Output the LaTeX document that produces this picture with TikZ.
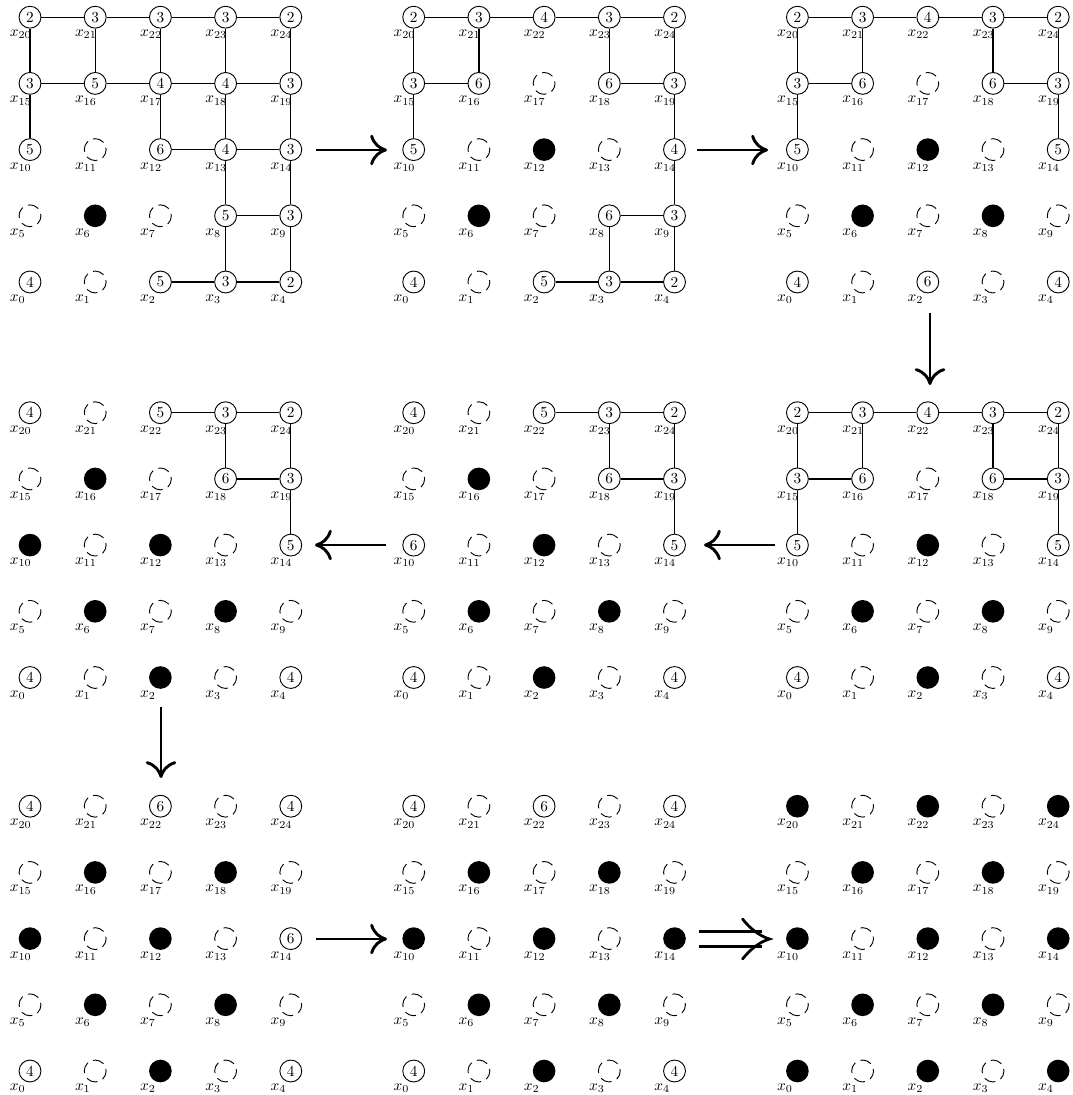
\documentclass[tikz,border=0pt]{standalone}
\usetikzlibrary{arrows.meta,calc}
\newcommand\drawpanel[4]{%
  \foreach \s [count=\k from 0] in {#4} {%
    \pgfmathtruncatemacro\cc{mod(\k,5)}%
    \pgfmathtruncatemacro\rr{div(\k,5)}%
    \pgfmathsetmacro\px{#2+65.2*\cc}%
    \pgfmathsetmacro\py{#3-66.2*\rr}%
    \ifnum\s=0 \node[emp] (#1-\k) at (\px,\py) {};%
    \else\ifnum\s=1 \node[ful] (#1-\k) at (\px,\py) {};%
    \else \node[vtx] (#1-\k) at (\px,\py) {\s};%
    \fi\fi
    \node[lbl] (#1-l\k) at (\px-20.5,\py+19.5) {$x_{\k}$};%
  }%
}
\newcommand\paneledges[2]{%
  \foreach \a/\b in {#2} {\draw[edge] (#1-\a) -- (#1-\b);}%
}
\begin{document}
\begin{tikzpicture}[x=0.654pt,y=-0.654pt,
  vtx/.style={circle,draw,line width=0.6pt,minimum size=14.3pt,inner sep=0pt},
  emp/.style={circle,draw,line width=0.6pt,minimum size=14.3pt,inner sep=0pt,dash pattern=on 7.5pt off 3.73pt,dash phase=6.2pt},
  ful/.style={circle,fill=black,minimum size=14.8pt,inner sep=0pt},
  lbl/.style={anchor=base west,inner sep=0pt,font=\normalsize},
  edge/.style={line width=0.8pt},
  bigarrow/.style={line width=1.9pt,-{To[length=11pt,width=20pt]}},
  dblline/.style={line width=1.8pt,double distance=8pt},
  barb/.style={line width=1.8pt,line cap=round},
]
\useasboundingbox (0,0) rectangle (1072,1095);

% ---------- row 1 ----------
\drawpanel{a}{30}{282}{4,0,5,3,2, 0,1,0,5,3, 5,0,6,4,3, 3,5,4,4,3, 2,3,3,3,2}
\paneledges{a}{20/21,21/22,22/23,23/24,20/15,21/16,22/17,23/18,24/19,15/16,16/17,17/18,18/19,15/10,17/12,18/13,19/14,12/13,13/14,13/8,14/9,8/9,8/3,9/4,2/3,3/4}

\drawpanel{b}{413.7}{282}{4,0,5,3,2, 0,1,0,6,3, 5,0,1,0,4, 3,6,0,6,3, 2,3,4,3,2}
\paneledges{b}{20/21,21/22,22/23,23/24,20/15,21/16,15/16,15/10,23/18,24/19,18/19,19/14,14/9,8/9,8/3,9/4,2/3,3/4}

\drawpanel{c}{797.4}{282}{4,0,6,0,4, 0,1,0,1,0, 5,0,1,0,5, 3,6,0,6,3, 2,3,4,3,2}
\paneledges{c}{20/21,21/22,22/23,23/24,20/15,21/16,15/16,15/10,23/18,24/19,18/19,19/14}

% ---------- row 2 ----------
\drawpanel{f}{30}{677.5}{4,0,1,0,4, 0,1,0,1,0, 1,0,1,0,5, 0,1,0,6,3, 4,0,5,3,2}
\paneledges{f}{22/23,23/24,23/18,24/19,18/19,19/14}

\drawpanel{e}{413.7}{677.5}{4,0,1,0,4, 0,1,0,1,0, 6,0,1,0,5, 0,1,0,6,3, 4,0,5,3,2}
\paneledges{e}{22/23,23/24,23/18,24/19,18/19,19/14}

\drawpanel{d}{797.4}{677.5}{4,0,1,0,4, 0,1,0,1,0, 5,0,1,0,5, 3,6,0,6,3, 2,3,4,3,2}
\paneledges{d}{20/21,21/22,22/23,23/24,20/15,21/16,15/16,15/10,23/18,24/19,18/19,19/14}

% ---------- row 3 ----------
\drawpanel{g}{30}{1071}{4,0,1,0,4, 0,1,0,1,0, 1,0,1,0,6, 0,1,0,1,0, 4,0,6,0,4}
\drawpanel{h}{413.7}{1071}{4,0,1,0,4, 0,1,0,1,0, 1,0,1,0,1, 0,1,0,1,0, 4,0,6,0,4}
\drawpanel{k}{797.4}{1071}{1,0,1,0,1, 0,1,0,1,0, 1,0,1,0,1, 0,1,0,1,0, 1,0,1,0,1}

% ---------- arrows ----------
\coordinate (ar1s) at (316,150);  \coordinate (ar1e) at (387,150);
\coordinate (ar2s) at (697,150);  \coordinate (ar2e) at (768,150);
\coordinate (ar3s) at (930,313);  \coordinate (ar3e) at (930,385);
\coordinate (ar4s) at (775,545);  \coordinate (ar4e) at (704,545);
\coordinate (ar5s) at (386,545);  \coordinate (ar5e) at (315,545);
\coordinate (ar6s) at (161,707);  \coordinate (ar6e) at (161,778);
\coordinate (ar7s) at (316,939);  \coordinate (ar7e) at (387,939);
\draw[bigarrow] (ar1s) -- (ar1e);
\draw[bigarrow] (ar2s) -- (ar2e);
\draw[bigarrow] (ar3s) -- (ar3e);
\draw[bigarrow] (ar4s) -- (ar4e);
\draw[bigarrow] (ar5s) -- (ar5e);
\draw[bigarrow] (ar6s) -- (ar6e);
\draw[bigarrow] (ar7s) -- (ar7e);

% double arrow
\coordinate (dbs) at (699,939);
\coordinate (dbe) at (762,939);
\coordinate (dbt) at (769.5,939);
\draw[dblline] (dbs) -- (dbe);
\draw[barb] ($(dbt)+(-27,-20)$) .. controls ($(dbt)+(-19,-10)$) and ($(dbt)+(-10,-3)$) .. (dbt)
            .. controls ($(dbt)+(-10,3)$) and ($(dbt)+(-19,10)$) .. ($(dbt)+(-27,20)$);
\end{tikzpicture}
\end{document}
